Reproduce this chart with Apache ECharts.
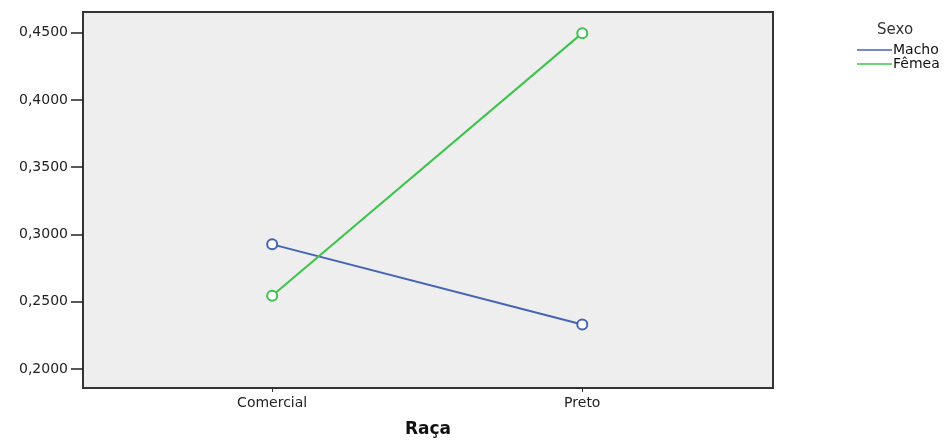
<!DOCTYPE html>
<html>
<head>
<meta charset="utf-8">
<script src="https://cdn.jsdelivr.net/npm/echarts@6/dist/echarts.min.js"></script>
<style>html,body{margin:0;padding:0;background:#fff}#c{width:949px;height:443px}</style>
</head>
<body>
<div id="c"></div>
<script>
var categories = ['Comercial', 'Preto'];
var machoValues = [0.2927, 0.2332];
var femeaValues = [0.2546, 0.4496];
var yTicks = [0.20, 0.25, 0.30, 0.35, 0.40, 0.45];
var seriesNames = ['Macho', 'Fêmea'];
var legendTitle = 'Sexo';
var xAxisTitle = 'Raça';

var font = 'DejaVu Sans';
function pts(vals) { return vals.map(function (v, i) { return [i, v]; }); }

var chart = echarts.init(document.getElementById('c'), null, {renderer: 'canvas'});
chart.setOption({
  animation: false,
  backgroundColor: '#ffffff',
  title: {
    text: legendTitle, left: 872, top: 18,
    textStyle: {fontFamily: font, fontSize: 15, fontWeight: 'normal', color: '#333'}
  },
  legend: {
    orient: 'vertical', left: 852, top: 38,
    icon: 'rect', itemWidth: 35, itemHeight: 1.5, itemGap: 0,
    data: seriesNames,
    textStyle: {fontFamily: font, fontSize: 14, color: '#111', padding: [0, 0, 0, -4]}
  },
  grid: {
    left: 83, right: 176, top: 12, bottom: 53,
    show: true, backgroundColor: '#eeeeee', borderColor: '#333', borderWidth: 2
  },
  xAxis: {
    type: 'value', min: -0.61, max: 1.615,
    name: xAxisTitle, nameLocation: 'middle', nameGap: 33,
    nameTextStyle: {fontFamily: font, fontSize: 17, fontWeight: 'bold', color: '#111'},
    axisLine: {show: false, onZero: false},
    splitLine: {show: false},
    axisTick: {show: true, length: 4, lineStyle: {color: '#333'}, customValues: [0, 1]},
    axisLabel: {
      customValues: [0, 1], margin: 8,
      fontFamily: font, fontSize: 14, color: '#222',
      formatter: function (v) { return categories[Math.round(v)]; }
    }
  },
  yAxis: {
    type: 'value', min: 0.186, max: 0.4653,
    axisLine: {show: false, onZero: false},
    splitLine: {show: false},
    axisTick: {show: true, length: 12, lineStyle: {color: '#222', width: 1.5}, customValues: yTicks},
    axisLabel: {
      customValues: yTicks, margin: 15,
      fontFamily: font, fontSize: 14, color: '#222',
      formatter: function (v) { return v.toFixed(4).replace('.', ','); }
    }
  },
  series: [
    {
      name: seriesNames[0], type: 'line', data: pts(machoValues),
      symbol: 'emptyCircle', symbolSize: 10,
      lineStyle: {color: '#4563b5', width: 2},
      itemStyle: {color: '#4563b5', borderWidth: 1.5},
      z: 3
    },
    {
      name: seriesNames[1], type: 'line', data: pts(femeaValues),
      symbol: 'emptyCircle', symbolSize: 10,
      lineStyle: {color: '#3cc34c', width: 2},
      itemStyle: {color: '#3cc34c', borderWidth: 1.5},
      z: 4
    }
  ]
});
</script>
</body>
</html>
